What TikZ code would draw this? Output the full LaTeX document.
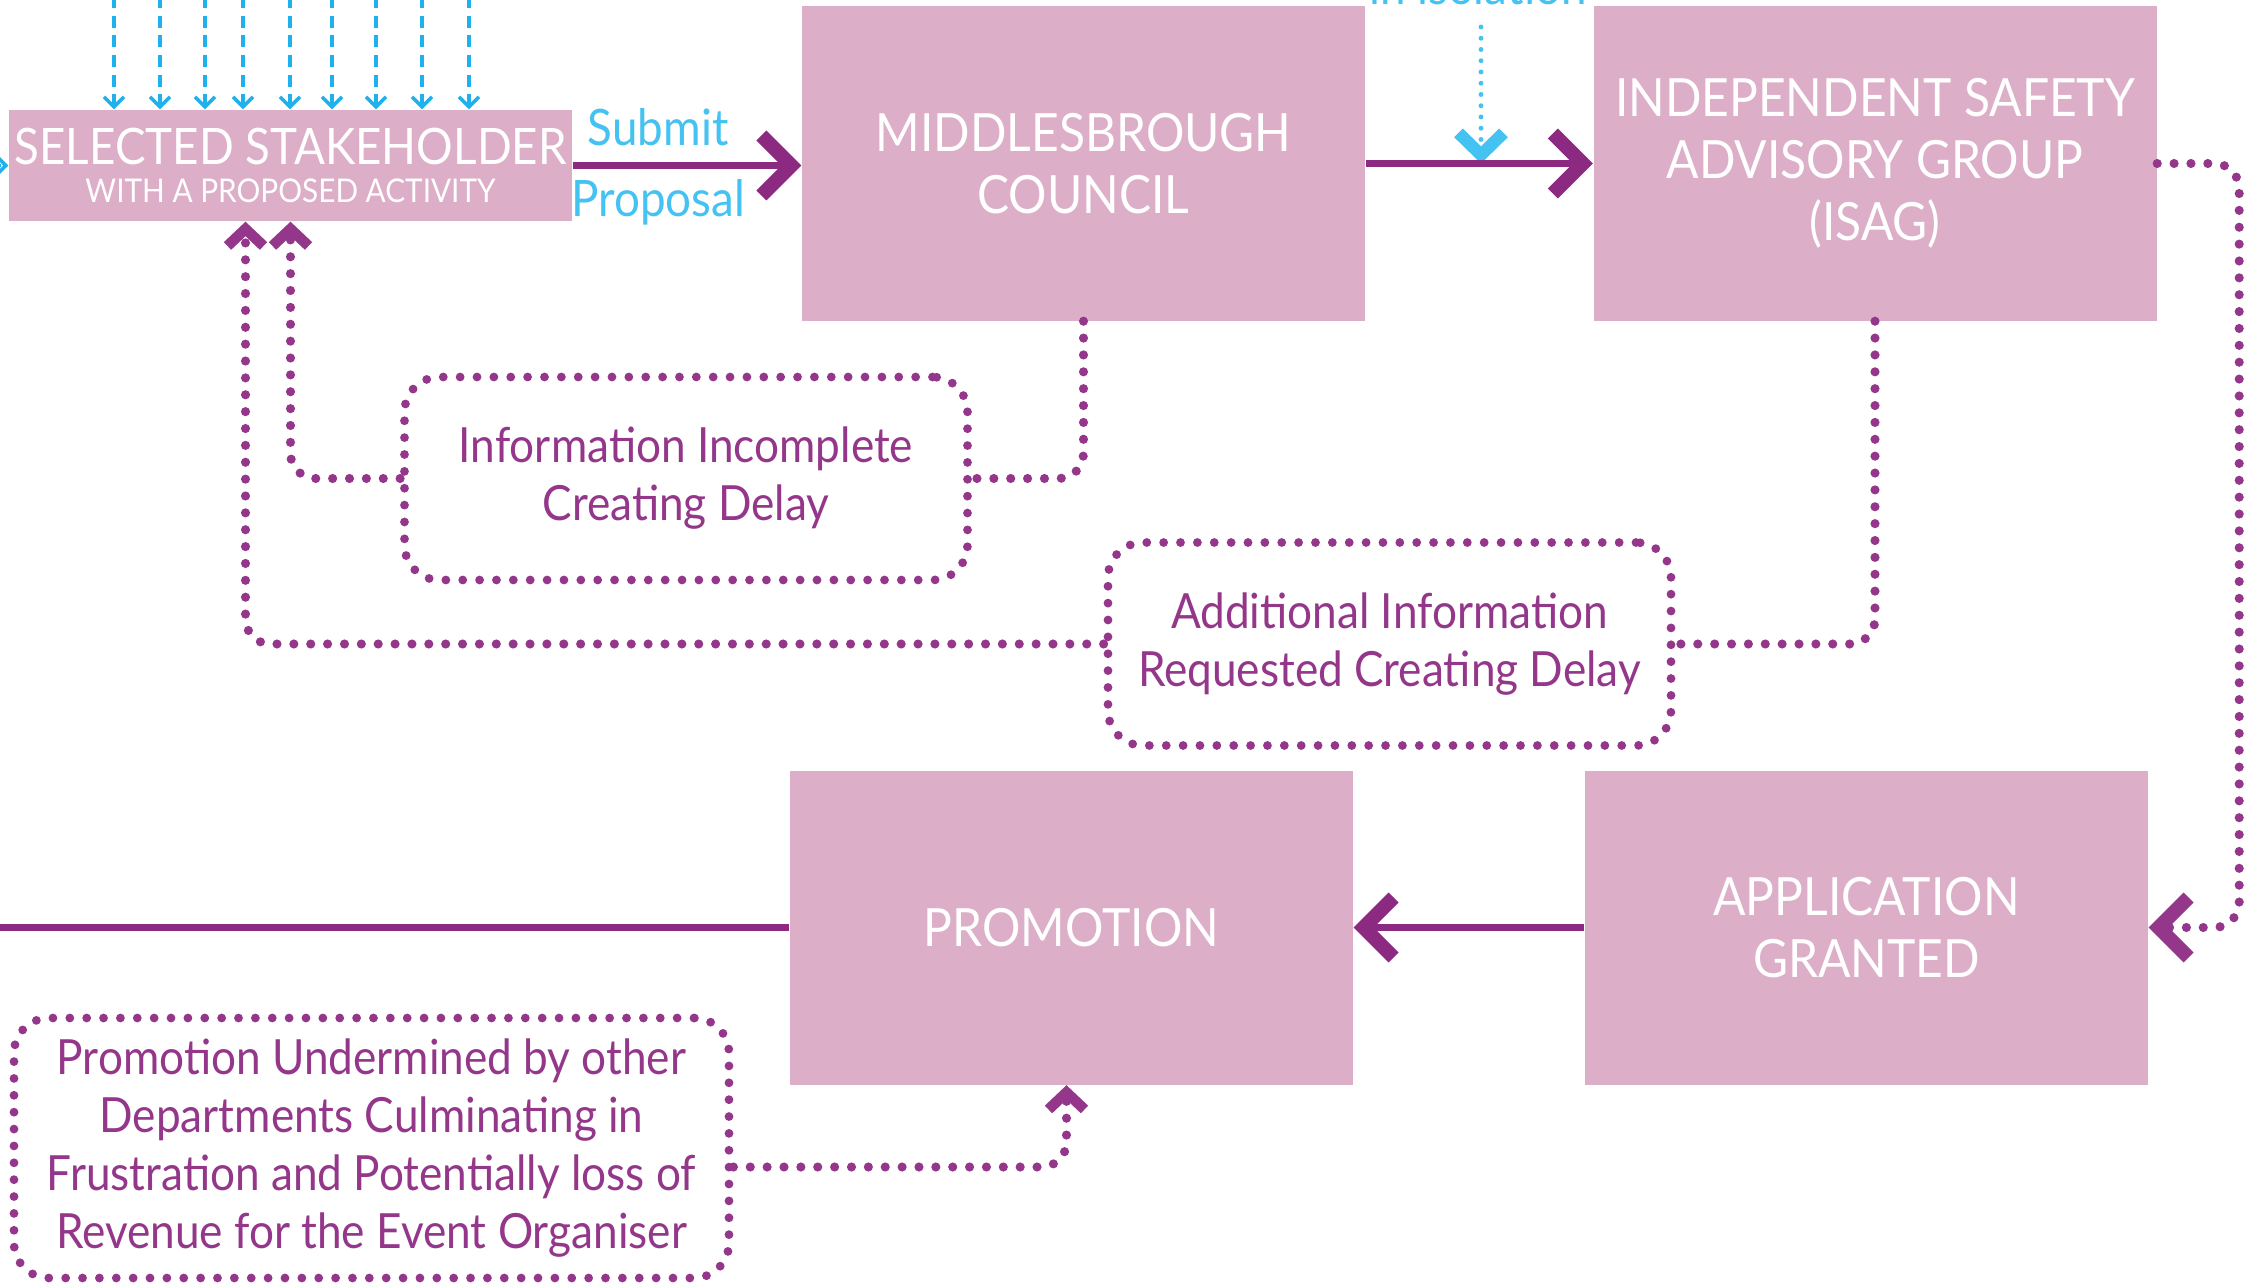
\documentclass[tikz,border=0pt]{standalone}
\usepackage{fontspec}
\setmainfont{Lato}[FakeStretch=0.91]
\usepackage{tikz}
\usepackage{xcolor}
\definecolor{BoxPink}{HTML}{DDAEC7}
\definecolor{DarkPurple}{HTML}{8C2A81}
\definecolor{TextPurple}{HTML}{94378B}
\definecolor{SkyBlue}{HTML}{1FB1EC}
\definecolor{LightBlue}{HTML}{44C2F2}
\usetikzlibrary{arrows.meta}
\tikzset{
  stagebox/.style={fill=BoxPink, text=white, align=center, inner sep=0pt,
    minimum width=5.63cm, minimum height=3.14cm, font=\fontsize{15}{17.6}\selectfont},
  delaybox/.style={draw=TextPurple, line width=2.5pt, line cap=round, dash pattern=on 0pt off 4.8pt,
    rounded corners=0.35cm, text=TextPurple, align=center, inner sep=0pt,
    minimum width=5.63cm, minimum height=2.03cm, font=\fontsize{13.8}{16.5}\selectfont},
  bluetext/.style={text=LightBlue, inner sep=0pt, font=\fontsize{14.3}{17}\selectfont},
  bigtip/.style={-{Straight Barb[length=0.3cm,width=0.6cm,line width=4pt,sharp]}},
  flow/.style={draw=DarkPurple, line width=2pt, bigtip},
  dotline/.style={draw=TextPurple, line width=2.6pt, line cap=round, dash pattern=on 0pt off 4.8pt,
    rounded corners=0.25cm},
  dotarrow/.style={dotline, -{Straight Barb[length=0.17cm,width=0.36cm,line width=3pt,sharp]}},
  bluedash/.style={draw=SkyBlue, line width=1pt, dash pattern=on 3.4pt off 2.2pt,
    -{Straight Barb[length=0.1cm,width=0.2cm,line width=1pt]}},
  isoline/.style={draw=LightBlue, line width=1.4pt, line cap=round, dash pattern=on 0pt off 3.2pt,
    -{Straight Barb[length=0.22cm,width=0.45cm,line width=3.5pt,sharp]}}
}

\begin{document}
\begin{tikzpicture}
            \useasboundingbox[fill=white] (0,0) rectangle (22.65,12.86);

            % stages
            \node[stagebox, minimum height=1.11cm, font=\fontsize{14.3}{17}\selectfont] (stake) at (2.905,11.205)
                {SELECTED STAKEHOLDER\\[-6pt]{\fontsize{9.3}{10}\selectfont WITH A PROPOSED ACTIVITY}};
            \node[stagebox] (council) at (10.835,11.225) {MIDDLESBROUGH\\COUNCIL};
            \node[stagebox] (isag) at (18.75,11.225) {INDEPENDENT SAFETY\\ADVISORY GROUP\\(ISAG)};
            \node[stagebox] (promo) at (10.715,3.585) {PROMOTION};
            \node[stagebox] (granted) at (18.665,3.585) {APPLICATION\\GRANTED};

            % delays
            \node[delaybox] (incomplete) at (6.86,8.075) {Information Incomplete\\Creating Delay};
            \node[delaybox] (additional) at (13.895,6.42) {Additional Information\\Requested Creating Delay};
            \node[delaybox, minimum width=7.15cm, minimum height=2.6cm] (undermined) at (3.715,1.38)
                {Promotion Undermined by other\\Departments Culminating in\\Frustration and Potentially loss of\\Revenue for the Event Organiser};

            % inputs from above
            \foreach \x in {1.14,1.60,2.05,2.43,2.90,3.32,3.76,4.22,4.69}
                \draw[bluedash] (\x,12.9) -- (stake.north -| \x,0);
            \coordinate (leftedge) at (-0.5,11.205);
            \draw[bluedash] (leftedge) -- (stake.west);

            \node[bluetext, anchor=base] (isolation) at (14.78,12.82) {in isolation};
            \coordinate (isotop) at (14.81,12.59);
            \draw[isoline] (isotop) -- (isotop |- council.east);

            % main flow
            \draw[flow] (stake.east) -- (stake.east -| council.west)
                node[bluetext, pos=0.374, anchor=south, yshift=0.16cm] {Submit}
                node[bluetext, pos=0.374, anchor=north, yshift=-0.1cm] {Proposal};
            \draw[flow] (council.east) -- (isag.west);
            \draw[flow] (granted.west) -- (promo.east);
            \draw[draw=DarkPurple, line width=2pt] (promo.west) -- (promo.west -| 0,0);

            % delays back to the stakeholder
            \draw[dotline] (council.south) |- (incomplete.east);
            \draw[dotarrow] (incomplete.west) -| (stake.south);
            \draw[dotline] (isag.south) |- (additional.east);
            \draw[dotarrow] (additional.west) -| ([xshift=-0.45cm]stake.south);
            \draw[dotline, bigtip] (isag.east) -- ++(0.82,0) |- (granted.east);
            \draw[dotarrow] ([yshift=-0.19cm]undermined.east) -| ([xshift=-0.05cm]promo.south);
        \end{tikzpicture}
\end{document}
